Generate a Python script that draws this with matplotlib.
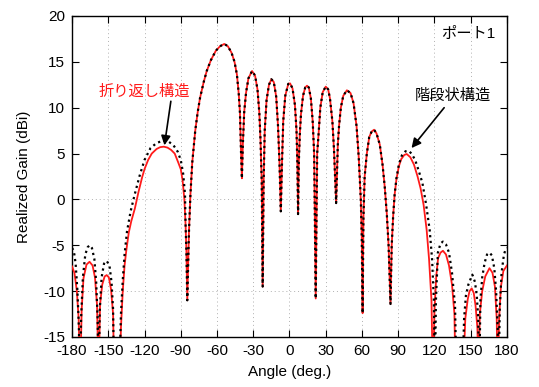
import numpy as np
import matplotlib
matplotlib.use('Agg')
import matplotlib.pyplot as plt

plt.rcParams['font.family'] = ['Liberation Sans', 'Noto Sans CJK JP', 'DejaVu Sans']
plt.rcParams['font.size'] = 11
plt.rcParams['axes.unicode_minus'] = False

# angle (deg) / realized gain (dBi)
# main-lobe region where both curves coincide
angle_mid = [-86, -85.3, -84.6, -83.2, -82, -80.5, -78, -76, -74, -71,
             -68.5, -65, -61, -57.5, -54, -51, -48, -45.5, -43.5, -42,
             -41, -40.2, -39.4, -38.6, -37.5, -36, -34, -31, -28.5, -26.5,
             -25, -24, -23, -22.2, -21.4, -20.5, -19, -17, -15, -13,
             -11, -9.5, -8.3, -7.2, -6.2, -5.2, -3.5, -1, 0.5, 2.5,
             4.5, 5.8, 6.5, 7.1, 7.7, 8.5, 9.5, 11.2, 13, 14.5,
             16, 17.7, 19.2, 20.4, 21.7, 22.9, 24, 25.5, 27.5, 30,
             32, 33.5, 35.5, 36.8, 38.6, 40, 41, 42.5, 44.5, 47.5,
             50.5, 53, 55.5, 57.3, 59, 59.8, 60.5, 61.2, 62.2, 64,
             66, 68, 70, 72, 74.7, 77, 78.8, 80.5, 82, 83.6,
             84.6]
gain_mid = [-2.8, -5.8, -11, -3.5, 0.5, 4.0, 7.5, 9.5, 11.1, 12.8,
            14.0, 15.2, 16.2, 16.7, 16.95, 16.7, 16.0, 15.0, 13.6, 11.5,
            9.4, 5.5, 2.3, 6.0, 9.5, 11.6, 13.2, 14.0, 13.5, 12.0,
            9.5, 6.5, 2.0, -9.5, 2.0, 7.5, 10.8, 12.5, 13.1, 12.8,
            11.2, 8.0, 4.0, -1.3, 4.0, 8.5, 11.3, 12.6, 12.65, 12.1,
            10.3, 7.5, 4.0, -1.6, 4.0, 7.0, 9.3, 11.3, 12.2, 12.4,
            12.2, 11.0, 8.5, 5.0, -10.8, 5.0, 7.0, 10.0, 11.7, 12.3,
            12.0, 11.0, 8.5, 5.5, -0.4, 6.0, 8.0, 10.0, 11.3, 11.9,
            11.6, 10.5, 8.0, 4.6, 0.0, -4.0, -12.4, -2.0, 2.5, 5.0,
            6.8, 7.4, 7.6, 7.2, 6.0, 3.8, 1.4, -1.5, -5.0, -11.4,
            -5.0]

# red (solid) side regions
angle_red_left = [-180, -178, -176, -174.5, -173.3, -172, -170.5, -168, -165.5, -163,
                  -161, -159.3, -158, -156.8, -155, -153, -151.3, -149.5, -147.7, -146,
                  -145, -140.5, -139.5, -138, -136.5, -135, -133, -131, -128, -125,
                  -122, -120, -117, -114, -110, -107, -104, -101, -98, -95,
                  -92, -90, -88.5, -87]
gain_red_left = [-7.3, -8.0, -10, -13, -20, -12, -8.6, -7.1, -6.8, -7.2,
                 -8.5, -11.5, -20, -11.5, -9.3, -8.4, -8.25, -8.5, -9.8, -12.5,
                 -20, -20, -14, -10, -7.2, -5.5, -3.6, -2.4, -1.0, 0.8,
                 2.4, 3.3, 4.3, 5.0, 5.5, 5.7, 5.75, 5.65, 5.4, 5.0,
                 4.0, 3.3, 2.1, 0.0]
angle_red_right = [85.8, 87, 88.5, 90.5, 92.5, 95, 97, 100, 103, 106,
                   108.5, 111, 113.5, 115.5, 117.5, 118.7, 120, 121.5, 123, 125,
                   127, 129.5, 132, 134.5, 136.5, 137.5, 143.5, 145.5, 147.5, 149,
                   150.8, 152.5, 154, 155.5, 156.5, 157.5, 159.5, 162, 165.5, 168,
                   170, 171.5, 172.3, 173.5, 175, 177, 180]
gain_red_right = [-1.8, 0.5, 2.2, 3.6, 4.4, 4.85, 4.95, 4.6, 3.8, 2.5,
                  1.2, -0.6, -3.3, -6.5, -11, -20, -12, -8.3, -6.4, -5.8,
                  -5.6, -6.0, -7.2, -9.3, -12.5, -20, -20, -13, -10.9, -10.0,
                  -9.7, -10.2, -11.6, -14, -20, -12.5, -10, -8.4, -7.5, -8.0,
                  -9.5, -13, -20, -13, -9.5, -7.8, -7.2]

# black (dotted) side regions
angle_blk_left = [-180, -178.5, -177, -175.5, -174.3, -173.5, -172.5, -171, -169, -167,
                  -165.3, -163.5, -161.5, -160, -158.8, -158, -157, -155.5, -153.5, -151.3,
                  -149, -147.3, -146, -145.2, -141, -139.5, -138, -136.5, -134.5, -131.5,
                  -128, -124, -120, -115, -110, -105, -100, -96, -92.5, -90,
                  -88, -86.5]
gain_blk_left = [-5.3, -5.6, -7.0, -10, -14, -20, -13, -8.5, -6.0, -5.2,
                 -5.0, -5.3, -6.5, -9, -13, -20, -12, -8.5, -7.0, -6.7,
                 -7.2, -9.0, -12, -20, -20, -12.5, -8.8, -6.0, -3.5, -1.3,
                 0.6, 2.6, 4.3, 5.6, 6.15, 6.4, 6.3, 5.9, 5.2, 4.3,
                 2.8, 0.6]
angle_blk_right = [85.8, 87, 88.5, 90.5, 93, 96, 98.5, 101, 104, 107,
                   110, 113, 116, 118, 119.5, 120.3, 121.2, 122.8, 125, 127,
                   129.5, 132, 134.5, 137, 138.3, 143, 144.5, 146, 148, 151.3,
                   153.5, 155, 156.2, 157, 158, 159.5, 161.5, 163.5, 165.5, 167.5,
                   169.5, 171, 172.3, 173, 174, 175.5, 177.5, 179, 180]
gain_blk_right = [-1.8, 0.5, 2.3, 3.8, 4.8, 5.25, 5.3, 5.0, 4.3, 3.1,
                  1.8, -0.5, -3.3, -6.5, -11, -20, -11, -5.8, -4.8, -4.6,
                  -4.9, -5.8, -8.0, -11.6, -20, -20, -13, -10.5, -9.3, -8.2,
                  -9.0, -10.5, -13, -20, -11, -8.5, -6.9, -6.0, -5.8, -6.1,
                  -7.5, -10, -14, -20, -12, -8, -6, -5.4, -5.3]

x_ticks = np.arange(-180, 181, 30)
y_ticks = np.arange(-15, 21, 5)

red_x = angle_red_left + angle_mid + angle_red_right
red_y = gain_red_left + gain_mid + gain_red_right
blk_x = angle_blk_left + angle_mid + angle_blk_right
blk_y = gain_blk_left + gain_mid + gain_blk_right

fig = plt.figure(figsize=(5.39, 3.87), dpi=100)
ax = fig.add_axes([0.1336, 0.1292, 0.8070, 0.8295])

ax.plot(red_x, red_y, color='#ff1a1a', lw=1.3, zorder=3)
ax.plot(blk_x, blk_y, color='black', lw=1.6, ls=(0, (1, 1.6)), zorder=4)

ax.set_xlim(-180, 180)
ax.set_ylim(-15, 20)
ax.set_xticks(x_ticks)
ax.set_yticks(y_ticks)
ax.tick_params(direction='in', top=True, right=True, length=5, width=0.8,
               labelsize=11, pad=5)
for s in ax.spines.values():
    s.set_linewidth(1.0)

for xv in x_ticks[1:-1]:
    ax.axvline(xv, color='#b0b0b0', lw=0.7, ls=(0, (1, 3)), zorder=1)
for yv in [0, -10]:
    ax.axhline(yv, color='#b0b0b0', lw=0.7, ls=(0, (1, 3)), zorder=1)

ax.set_xlabel('Angle (deg.)', fontsize=11, labelpad=5)
ax.set_ylabel('Realized Gain (dBi)', fontsize=11, labelpad=9)

ax.text(170, 18.0, 'ポート1', fontsize=11, ha='right', va='center')

ax.text(-120, 11.7, '折り返し構造', fontsize=11, color='#ff1a1a', ha='center', va='center')
ax.annotate('', xy=(-103.5, 5.9), xytext=(-98.2, 10.7),
            arrowprops=dict(arrowstyle='-|>', color='black', lw=1.2,
                            mutation_scale=14, shrinkA=0, shrinkB=0))
ax.text(135, 11.3, '階段状構造', fontsize=11, color='black', ha='center', va='center')
ax.annotate('', xy=(101, 5.6), xytext=(128, 10.0),
            arrowprops=dict(arrowstyle='-|>', color='black', lw=1.2,
                            mutation_scale=14, shrinkA=0, shrinkB=0))

fig.savefig('out.png', dpi=100)
